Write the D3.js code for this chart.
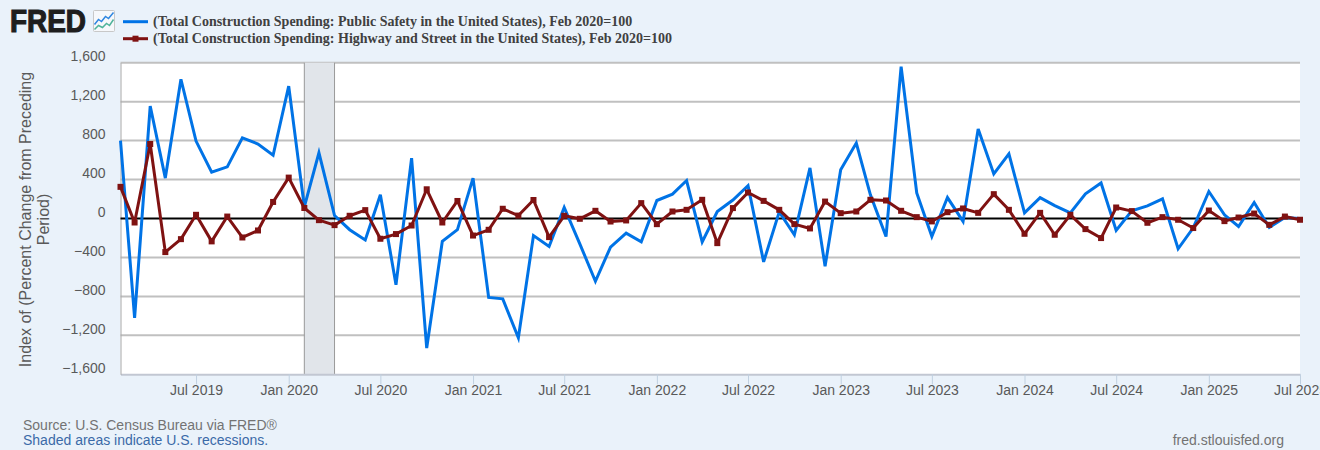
<!DOCTYPE html>
<html><head><meta charset="utf-8">
<script src="https://cdn.jsdelivr.net/npm/d3@7/dist/d3.min.js"></script>
<style>html,body{margin:0;padding:0;background:#eaf2fa;overflow:hidden}svg{display:block}</style>
</head><body><div id="c"></div>
<script>
const startMonth = "2019-02-01";
const publicSafety = [800,-1020,1155,415,1430,795,475,530,828,765,650,1360,120,675,30,-115,-220,243,-680,620,-1330,-235,-115,415,-810,-825,-1225,-175,-287,113,-260,-645,-293,-150,-240,185,250,390,-240,72,190,338,-445,68,-167,520,-490,500,775,243,-185,1560,263,-185,215,-30,920,458,663,58,215,133,58,253,365,-123,79,130,202,-311,-95,277,38,-82,164,-92,10,0];
const highwayStreet = [325,-41,765,-345,-212,38,-235,20,-195,-123,170,420,108,-17,-68,28,86,-208,-160,-72,300,-41,180,-175,-116,100,30,190,-191,28,-3,79,-31,-20,158,-58,72,89,192,-253,107,267,181,89,-58,-102,174,55,72,192,185,79,14,-30,65,103,58,250,89,-157,58,-167,38,-109,-201,113,76,-44,14,-13,-98,82,-27,10,51,-65,20,-13];
const yTicks = [1600,1200,800,400,0,-400,-800,-1200,-1600];
const recession = ["2020-02-01","2020-04-01"];
const legendLabels = ["(Total Construction Spending: Public Safety in the United States), Feb 2020=100","(Total Construction Spending: Highway and Street in the United States), Feb 2020=100"];
const yTitle = ["Index of (Percent Change from Preceding","Period)"];

const parse = d3.utcParse("%Y-%m-%d");
const start = parse(startMonth);
const months = d3.utcMonth.range(start, d3.utcMonth.offset(start, publicSafety.length));
const W=1320,H=450,L=120.5,R=1300,T=62.7,B=374.3;
const x = d3.scaleUtc().domain([months[0],months[months.length-1]]).range([L,R]);
const y = d3.scaleLinear().domain([-1600,1600]).range([B,T]);
const svg = d3.select("#c").append("svg").attr("width",W).attr("height",H).style("font-family","'Liberation Sans',Arial,sans-serif");
svg.append("rect").attr("width",W).attr("height",H).attr("fill","#eaf2fa");
svg.append("rect").attr("x",L).attr("y",T).attr("width",R-L).attr("height",B-T).attr("fill","#fff");

svg.append("g").selectAll("line").data(yTicks.filter(d=>d!==0&&d!==-1600)).join("line")
 .attr("x1",L).attr("x2",R).attr("y1",d=>y(d)).attr("y2",d=>y(d)).attr("stroke","#c0c0c0").attr("stroke-width",2);

const rx0=x(parse(recession[0])),rx1=x(parse(recession[1]));
svg.append("rect").attr("x",rx0).attr("y",T).attr("width",rx1-rx0).attr("height",B-T).attr("fill","#e1e5ea");
[rx0,rx1].forEach(v=>svg.append("line").attr("x1",v).attr("x2",v).attr("y1",T).attr("y2",B).attr("stroke","#999").attr("stroke-width",1));

const gx = svg.append("g").attr("transform",`translate(0,${B})`).call(d3.axisBottom(x).tickValues(d3.range(0,13).map(i=>d3.utcMonth.offset(parse("2019-07-01"),i*6))).tickSizeInner(10).tickSizeOuter(0).tickPadding(1).tickFormat(d3.utcFormat("%b %Y")));
gx.select(".domain").attr("stroke","#c2c7d2").attr("stroke-width",2);
gx.selectAll("line").attr("stroke","#c0d0e0");
gx.selectAll("text").attr("font-size",14).attr("fill","#595959").attr("font-family","'Liberation Sans',Arial,sans-serif");

const gy = svg.append("g").attr("transform",`translate(${L},0)`).call(d3.axisLeft(y).tickValues(yTicks).tickSize(0).tickPadding(15).tickFormat(d3.format(",")));
gy.select(".domain").attr("stroke","#a8a8a8").attr("stroke-width",1);
gy.selectAll("text").attr("font-size",14).attr("fill","#595959").attr("font-family","'Liberation Sans',Arial,sans-serif").attr("dy",null).attr("y",-6).attr("dominant-baseline","middle");

svg.append("line").attr("x1",L).attr("x2",R).attr("y1",y(0)).attr("y2",y(0)).attr("stroke","#000").attr("stroke-width",2);

const line = d3.line().x((d,i)=>x(months[i])).y(d=>y(d)).curve(d3.curveLinear);
svg.append("path").attr("d",line(publicSafety)).attr("fill","none").attr("stroke","#0073e6").attr("stroke-width",3).attr("stroke-linejoin","miter");
svg.append("path").attr("d",line(highwayStreet)).attr("fill","none").attr("stroke","#7f1212").attr("stroke-width",3).attr("stroke-linejoin","round");
svg.append("g").selectAll("rect").data(highwayStreet).join("rect")
 .attr("x",(d,i)=>x(months[i])-3).attr("y",d=>y(d)-3).attr("width",6).attr("height",6).attr("fill","#7f1212");

svg.append("g").attr("transform","translate(0,219.5)").selectAll("text").data(yTitle).join("text")
 .attr("transform",(d,i)=>`translate(${31+i*18},0) rotate(-90)`).attr("text-anchor","middle").attr("font-size",16).attr("fill","#595959").text(d=>d);

const colors=["#0073e6","#7f1212"];
const lg=svg.append("g").selectAll("g").data(legendLabels).join("g").attr("transform",(d,i)=>`translate(0,${i?38.7:21.7})`);
lg.append("line").attr("x1",123).attr("x2",148).attr("stroke",(d,i)=>colors[i]).attr("stroke-width",3);
lg.filter((d,i)=>i==1).append("rect").attr("x",132.5).attr("y",-3).attr("width",6).attr("height",6).attr("fill",colors[1]);
lg.append("text").attr("x",153).attr("y",4.5).attr("font-family","'Liberation Serif','Times New Roman',serif").attr("font-weight","bold").attr("font-size",14).attr("fill","#404040").text(d=>d);

svg.append("text").attr("x",23).attr("y",430).attr("font-size",14).attr("fill","#737373").text("Source: U.S. Census Bureau via FRED®");
svg.append("text").attr("x",23).attr("y",445).attr("font-size",14).attr("fill","#3b6aa8").text("Shaded areas indicate U.S. recessions.");
svg.append("text").attr("x",1284).attr("y",445).attr("text-anchor","end").attr("font-size",14).attr("fill","#737373").text("fred.stlouisfed.org");

svg.append("text").attr("x",10).attr("y",32).attr("font-size",31).attr("font-weight","bold").attr("fill","#1e1e1e").attr("stroke","#1e1e1e").attr("stroke-width",1.2).attr("textLength",76).attr("lengthAdjust","spacingAndGlyphs").text("FRED");
const icon=svg.append("g").attr("transform","translate(93.5,10.5)");
icon.append("rect").attr("width",21).attr("height",21).attr("rx",1).attr("fill","#f6f8fb").attr("stroke","#c8c8c8").attr("stroke-width",1);
icon.append("polyline").attr("points","1,14 5,9 8,11 12,6 15,8 20,2").attr("fill","none").attr("stroke","#2f86e0").attr("stroke-width",1.5);
icon.append("polyline").attr("points","1,19 5,15 9,17 13,13 16,15 20,9").attr("fill","none").attr("stroke","#4fb39a").attr("stroke-width",1.5);
</script></body></html>
